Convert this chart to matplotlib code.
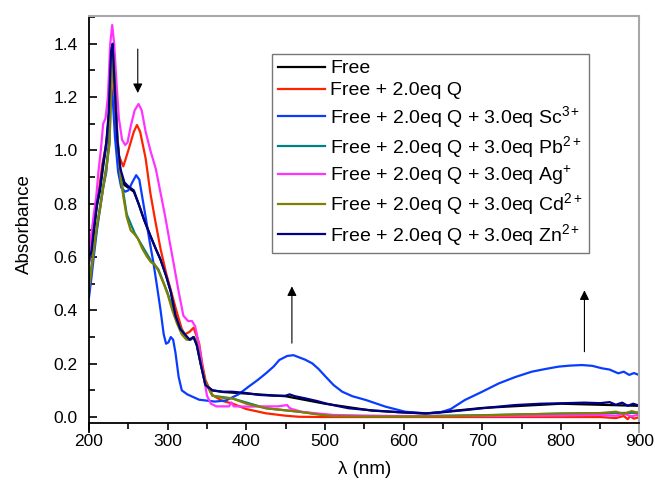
import matplotlib
matplotlib.use("Agg")
import matplotlib.pyplot as plt
from matplotlib.ticker import MultipleLocator

plt.rcParams["font.family"] = ["Liberation Sans", "DejaVu Sans"]
plt.rcParams["mathtext.fontset"] = "custom"
plt.rcParams["mathtext.rm"] = "Liberation Sans"
plt.rcParams["mathtext.it"] = "Liberation Sans"

# --- Data (wavelength nm, absorbance) ---
wl_zn = [200, 203, 206, 210, 214, 218, 222, 225, 228, 230, 233, 236, 240, 245, 250, 257, 263,
         270, 278, 285, 291, 298, 304, 310, 316, 322, 328, 333, 337, 342, 348, 357, 370, 382,
         400, 416, 435, 450, 455, 462, 475, 490, 501, 515, 530, 560, 594, 628, 650, 678, 710,
         742, 775, 805, 830, 850, 862, 870, 878, 885, 892, 900]
abs_zn = [0.60, 0.62, 0.70, 0.80, 0.86, 0.95, 1.03, 1.14, 1.37, 1.40, 1.22, 1.04, 0.93, 0.88,
          0.865, 0.85, 0.80, 0.74, 0.68, 0.63, 0.59, 0.53, 0.47, 0.38, 0.33, 0.31, 0.29, 0.30,
          0.27, 0.20, 0.12, 0.10, 0.095, 0.095, 0.09, 0.083, 0.08, 0.08, 0.085, 0.078, 0.07,
          0.06, 0.051, 0.042, 0.033, 0.025, 0.018, 0.014, 0.018, 0.026, 0.036, 0.045, 0.05,
          0.052, 0.054, 0.052, 0.056, 0.046, 0.054, 0.042, 0.050, 0.042]

wl_free = [200, 203, 206, 210, 214, 218, 222, 225, 228, 230, 233, 236, 240, 245, 250, 257, 263,
           270, 278, 285, 291, 298, 304, 310, 316, 322, 328, 333, 337, 342, 348, 357, 370, 400,
           450, 500, 560, 628, 700, 800, 900]
abs_free = [0.58, 0.62, 0.69, 0.79, 0.85, 0.94, 1.02, 1.12, 1.35, 1.39, 1.21, 1.03, 0.92, 0.87,
            0.86, 0.845, 0.80, 0.74, 0.68, 0.63, 0.59, 0.53, 0.47, 0.38, 0.33, 0.305, 0.29, 0.30,
            0.27, 0.20, 0.12, 0.10, 0.094, 0.088, 0.078, 0.05, 0.024, 0.013, 0.034, 0.05, 0.042]

wl_q = [200, 203, 206, 210, 213, 217, 221, 225, 228, 229.5, 232, 235, 238, 243.6, 250, 257, 261,
        265, 272, 278, 284, 291, 298, 305, 311, 318, 322, 328, 333, 336, 340, 344, 348, 357, 370,
        382, 400, 425, 450, 467, 500, 600, 700, 800, 850, 870, 880, 885, 888, 893, 900]
abs_q = [0.62, 0.68, 0.74, 0.80, 0.86, 0.95, 1.01, 1.10, 1.30, 1.36, 1.22, 1.06, 0.98, 0.94, 1.00,
         1.07, 1.095, 1.07, 0.97, 0.84, 0.74, 0.63, 0.54, 0.465, 0.40, 0.33, 0.31, 0.32, 0.335,
         0.31, 0.277, 0.20, 0.139, 0.082, 0.06, 0.051, 0.03, 0.014, 0.005, 0.001, 0.0, 0.0, 0.0,
         0.0, 0.0, -0.004, 0.004, -0.008, 0.003, -0.006, 0.0]

wl_sc = [200, 203, 206, 210, 214, 218, 222, 225, 227.5, 230, 233, 237, 241, 246, 250, 255, 260,
         264, 268, 272, 277, 282, 287, 291, 295, 298, 301, 304, 307, 310, 314, 318, 325, 340, 360,
         374, 390, 403, 415, 425, 435, 442, 452, 460, 467, 475, 484, 492, 501, 511, 522, 535, 552,
         577, 602, 628, 645, 660, 678, 700, 721, 742, 763, 780, 797, 812, 827, 840, 852, 862, 873,
         880, 887, 893, 900]
abs_sc = [0.45, 0.52, 0.60, 0.70, 0.78, 0.86, 0.92, 1.02, 1.25, 1.20, 1.05, 0.92, 0.86, 0.845,
          0.85, 0.88, 0.907, 0.89, 0.82, 0.75, 0.66, 0.577, 0.48, 0.40, 0.31, 0.275, 0.28, 0.30,
          0.29, 0.24, 0.15, 0.10, 0.085, 0.065, 0.058, 0.062, 0.085, 0.114, 0.14, 0.164, 0.19,
          0.214, 0.229, 0.232, 0.224, 0.215, 0.201, 0.18, 0.151, 0.12, 0.095, 0.078, 0.064,
          0.039, 0.020, 0.014, 0.016, 0.030, 0.064, 0.095, 0.126, 0.15, 0.17, 0.18, 0.189,
          0.193, 0.195, 0.192, 0.183, 0.178, 0.164, 0.17, 0.158, 0.165, 0.157]

wl_ag = [200, 203, 206, 209, 212, 215, 218, 221, 224, 227, 229.5, 232, 235, 238, 242, 246, 249,
         253, 258, 263, 267, 272, 278, 285, 291, 297, 303, 308, 314, 320, 326, 331, 335, 340, 345,
         350, 355, 362, 370, 378, 381, 384, 390, 403, 420, 440, 452, 455, 458, 470, 488, 510, 550,
         600, 700, 800, 850, 870, 880, 890, 900]
abs_ag = [0.58, 0.68, 0.76, 0.82, 0.92, 1.00, 1.10, 1.12, 1.20, 1.40, 1.47, 1.40, 1.25, 1.12, 1.04,
          1.02, 1.03, 1.09, 1.15, 1.174, 1.15, 1.07, 1.00, 0.93, 0.84, 0.75, 0.65, 0.57, 0.47,
          0.38, 0.36, 0.36, 0.34, 0.27, 0.17, 0.08, 0.05, 0.04, 0.04, 0.04, 0.055, 0.04, 0.04,
          0.039, 0.04, 0.04, 0.045, 0.034, 0.03, 0.02, 0.014, 0.008, 0.005, 0.004, 0.004, 0.006,
          0.008, 0.005, 0.012, 0.003, 0.01]

wl_cd = [200, 203, 206, 210, 214, 218, 222, 226, 229, 231, 233, 236, 240, 244, 248, 253, 258, 262,
         268, 274, 279, 283, 288, 295, 300, 306, 312, 318, 324, 329, 333, 337, 342, 348, 357, 370,
         382, 400, 425, 450, 467, 490, 509, 550, 600, 650, 700, 750, 800, 850, 870, 880, 890, 900]
abs_cd = [0.48, 0.55, 0.62, 0.72, 0.78, 0.86, 0.93, 1.02, 1.30, 1.36, 1.25, 1.05, 0.90, 0.82, 0.75,
          0.70, 0.685, 0.67, 0.63, 0.60, 0.58, 0.575, 0.55, 0.50, 0.46, 0.40, 0.35, 0.31, 0.29,
          0.29, 0.30, 0.28, 0.20, 0.13, 0.08, 0.072, 0.07, 0.05, 0.033, 0.025, 0.02, 0.01, 0.004,
          0.002, 0.002, 0.003, 0.006, 0.010, 0.013, 0.015, 0.02, 0.012, 0.022, 0.015]

wl_pb = [200, 206, 214, 222, 226, 229, 231, 233, 236, 240, 248, 258, 268, 279, 288, 300, 312,
         324, 329, 333, 337, 342, 348, 357, 382, 425, 467, 509, 600, 700, 800, 900]
abs_pb = [0.50, 0.63, 0.79, 0.94, 1.03, 1.31, 1.37, 1.26, 1.06, 0.91, 0.76, 0.69, 0.64, 0.585,
          0.555, 0.465, 0.355, 0.295, 0.29, 0.30, 0.28, 0.20, 0.13, 0.08, 0.07, 0.033, 0.02,
          0.005, 0.003, 0.007, 0.013, 0.016]

series = [
    ("Free", wl_free, abs_free, "#000000"),
    ("Free + 2.0eq Q", wl_q, abs_q, "#ff2200"),
    ("Free + 2.0eq Q + 3.0eq Sc$^{3+}$", wl_sc, abs_sc, "#0a3cff"),
    ("Free + 2.0eq Q + 3.0eq Pb$^{2+}$", wl_pb, abs_pb, "#008080"),
    ("Free + 2.0eq Q + 3.0eq Ag$^{+}$", wl_ag, abs_ag, "#ff33ff"),
    ("Free + 2.0eq Q + 3.0eq Cd$^{2+}$", wl_cd, abs_cd, "#808000"),
    ("Free + 2.0eq Q + 3.0eq Zn$^{2+}$", wl_zn, abs_zn, "#000080"),
]

# arrows: (x, y_tail, y_head)
arrows = [(262, 1.38, 1.215), (458, 0.277, 0.49), (830, 0.245, 0.475)]

fig = plt.figure(figsize=(6.55, 4.86), dpi=100)
ax = fig.add_axes([0.1359, 0.1117, 0.8404, 0.856])

for label, x, y, color in series:
    ax.plot(x, y, color=color, linewidth=1.6, label=label)

for x, y0, y1 in arrows:
    ax.annotate("", xy=(x, y1), xytext=(x, y0),
                arrowprops=dict(arrowstyle="-|>", color="black", lw=0.8,
                                mutation_scale=14, shrinkA=0, shrinkB=0))

ax.set_xlim(200, 900)
ax.set_ylim(-0.055, 1.505)
ax.spines["bottom"].set_position(("data", -0.021))
for side in ("top", "right"):
    ax.spines[side].set_color("#a8a8a8")
    ax.spines[side].set_linewidth(1.5)
for side in ("left", "bottom"):
    ax.spines[side].set_linewidth(1.3)

ax.xaxis.set_major_locator(MultipleLocator(100))
ax.xaxis.set_minor_locator(MultipleLocator(50))
ax.yaxis.set_minor_locator(MultipleLocator(0.1))
ax.set_yticks([0.0, 0.2, 0.4, 0.6, 0.8, 1.0, 1.2, 1.4])
ax.yaxis.set_major_formatter(plt.FuncFormatter(lambda v, p: f"{v:.1f}"))
ax.tick_params(axis="y", which="major", direction="in", length=6, width=1.2, labelsize=12.5, pad=8)
ax.tick_params(axis="y", which="minor", direction="in", length=4, width=1.2)
ax.tick_params(axis="x", which="major", direction="out", length=5, width=1.2, labelsize=12.5, pad=3)
ax.tick_params(axis="x", which="minor", direction="out", length=4, width=1.2)

ax.set_xlabel("λ (nm)", fontsize=13.5, labelpad=9)
ax.set_ylabel("Absorbance", fontsize=13.5, labelpad=15)

leg = ax.legend(loc="upper left", bbox_to_anchor=(272 / 655, 1 - 54 / 486),
                bbox_transform=fig.transFigure, borderaxespad=0, fontsize=14,
                fancybox=False, framealpha=1, edgecolor="#777777",
                handlelength=2.4, handletextpad=0.3, labelspacing=0.22, borderpad=0.3)
leg.get_frame().set_linewidth(1.0)

fig.savefig("out.png", dpi=100)
